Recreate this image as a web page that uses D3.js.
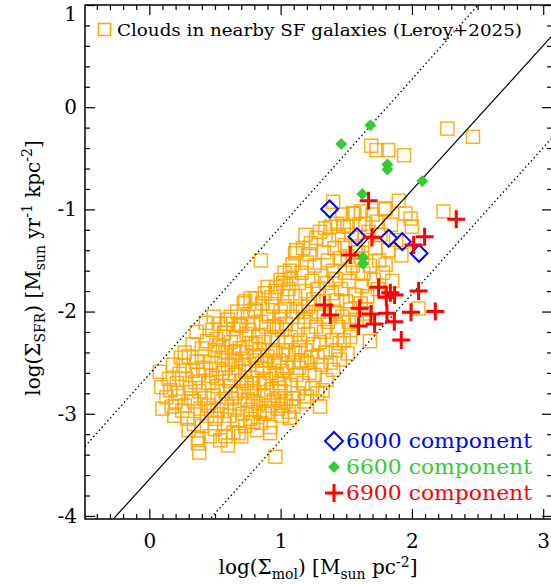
<!DOCTYPE html>
<html><head><meta charset="utf-8">
<script src="https://cdn.jsdelivr.net/npm/d3@7"></script>
<style>body{margin:0;background:#fff}svg{display:block}</style>
</head><body><svg id="c" width="551" height="585"></svg>
<script>
const xTicksMajor=[0,1,2,3];
const xLabels=["0","1","2","3"];
const yTicksMajor=[-4,-3,-2,-1,0,1];
const yLabels=["-4","-3","-2","-1","0","1"];

const cloudPoints=[
[0.08,-2.59],[0.09,-2.74],[0.10,-2.95],[0.13,-2.84],[0.15,-2.66],
[0.17,-2.93],[0.18,-2.52],[0.19,-3.02],[0.21,-2.70],[0.22,-2.80],[0.23,-2.61],[0.24,-2.45],[0.20,-2.88],[0.25,-2.97],[0.16,-2.77],
[0.26,-2.53],[0.27,-2.40],[0.28,-2.66],[0.30,-2.44],[0.30,-3.16],[0.31,-2.75],[0.32,-2.85],[0.33,-2.58],[0.34,-2.88],[0.29,-3.05],[0.33,-2.32],[0.27,-2.92],[0.35,-2.69],[0.34,-3.10],
[0.375,-3.24],[0.38,-3.38],[0.37,-3.29],[0.36,-2.49],[0.37,-2.62],[0.38,-2.78],[0.39,-2.95],[0.40,-2.36],[0.41,-2.55],[0.42,-2.85],[0.43,-2.11],[0.44,-2.29],[0.44,-3.02],[0.45,-2.70],[0.40,-3.12],[0.42,-2.44],[0.36,-2.20],[0.45,-2.92],
[0.46,-3.22],[0.47,-2.50],[0.48,-2.18],[0.48,-2.63],[0.49,-2.82],[0.50,-2.38],[0.50,-3.05],[0.51,-2.27],[0.52,-2.73],[0.52,-2.96],[0.53,-2.56],[0.54,-3.26],[0.54,-2.12],[0.55,-2.45],[0.55,-2.88],[0.47,-2.97],[0.50,-3.15],[0.53,-2.33],[0.49,-2.05],[0.51,-2.65],
[0.56,-2.60],[0.57,-2.21],[0.57,-3.10],[0.58,-2.78],[0.58,-2.40],[0.59,-2.93],[0.60,-3.31],[0.60,-2.08],[0.60,-2.52],[0.61,-2.68],[0.61,-3.02],[0.62,-2.05],[0.62,-2.30],[0.63,-2.85],[0.63,-2.47],[0.64,-3.18],[0.64,-2.17],[0.65,-2.62],[0.65,-2.96],[0.56,-2.35],[0.59,-2.12],[0.62,-2.73],[0.65,-2.40],[0.58,-3.22],
[0.66,-2.26],[0.66,-2.80],[0.67,-2.00],[0.67,-3.07],[0.68,-3.19],[0.68,-2.55],[0.69,-2.36],[0.69,-2.90],[0.70,-2.14],[0.70,-2.68],[0.71,-2.46],[0.71,-3.00],[0.72,-1.92],[0.72,-2.78],[0.73,-1.90],[0.73,-2.59],[0.73,-3.12],[0.74,-2.22],[0.74,-2.40],[0.75,-2.86],[0.75,-2.05],[0.66,-2.49],[0.70,-3.22],[0.74,-2.70],[0.68,-2.12],
[0.76,-2.52],[0.77,-1.87],[0.77,-2.96],[0.78,-2.31],[0.78,-2.65],[0.79,-2.12],[0.79,-3.08],[0.80,-2.43],[0.80,-2.80],[0.81,-1.87],[0.81,-2.00],[0.82,-2.58],[0.82,-3.16],[0.83,-2.24],[0.83,-2.90],[0.84,-2.70],[0.84,-2.38],[0.85,-1.50],[0.85,-3.09],[0.85,-2.10],[0.76,-2.18],[0.78,-2.75],[0.80,-1.98],[0.82,-2.48],[0.84,-2.98],[0.77,-3.05],[0.81,-2.32],[0.79,-2.88],
[0.86,-2.55],[0.86,-1.92],[0.87,-2.82],[0.87,-2.30],[0.88,-1.82],[0.88,-3.00],[0.89,-2.66],[0.89,-2.15],[0.90,-1.76],[0.90,-2.44],[0.91,-2.92],[0.91,-2.05],[0.92,-3.13],[0.92,-3.19],[0.92,-2.60],[0.93,-2.25],[0.93,-2.76],[0.94,-1.95],[0.94,-2.38],[0.95,-2.87],[0.95,-2.50],[0.96,-3.42],[0.88,-2.48],[0.90,-2.98],[0.93,-1.86],[0.95,-2.14],[0.87,-2.70],
[0.96,-1.80],[0.97,-1.76],[0.97,-2.62],[0.98,-2.28],[0.98,-2.95],[0.99,-2.05],[0.99,-2.48],[1.00,-1.69],[1.00,-2.78],[1.01,-2.18],[1.01,-3.02],[1.02,-1.72],[1.02,-2.38],[1.03,-2.66],[1.03,-1.95],[1.04,-2.88],[1.04,-2.12],[1.05,-2.55],[1.05,-1.85],[0.96,-2.40],[0.98,-2.85],[1.00,-2.00],[1.02,-2.92],[1.04,-2.30],[0.97,-2.15],[1.01,-2.58],[1.03,-1.62],[0.99,-2.70],
[1.06,-2.42],[1.06,-2.98],[1.07,-3.04],[1.07,-1.60],[1.08,-2.25],[1.08,-2.72],[1.09,-1.54],[1.09,-2.05],[1.10,-2.93],[1.10,-2.50],[1.11,-1.43],[1.11,-1.85],[1.12,-1.40],[1.12,-2.62],[1.13,-2.18],[1.13,-2.80],[1.14,-1.72],[1.14,-2.35],[1.15,-2.28],[1.15,-1.95],[1.06,-1.78],[1.09,-2.85],[1.12,-2.00],[1.14,-2.55],[1.08,-1.68],[1.11,-2.40],
[1.16,-2.48],[1.16,-1.62],[1.17,-2.70],[1.17,-1.38],[1.18,-2.10],[1.18,-2.88],[1.19,-1.80],[1.19,-2.38],[1.20,-2.83],[1.20,-1.52],[1.21,-2.22],[1.21,-1.95],[1.22,-2.60],[1.22,-1.44],[1.23,-1.33],[1.23,-2.05],[1.24,-2.75],[1.24,-1.70],[1.25,-2.32],[1.25,-1.88],[1.17,-2.00],[1.20,-2.50],[1.23,-2.45],[1.19,-1.25],
[1.26,-1.55],[1.26,-2.62],[1.27,-1.28],[1.27,-2.15],[1.28,-2.44],[1.28,-1.78],[1.29,-2.00],[1.30,-2.93],[1.30,-1.22],[1.30,-2.30],[1.31,-1.65],[1.31,-2.52],[1.32,-2.77],[1.32,-1.90],[1.33,-1.42],[1.33,-2.20],[1.34,-1.185],[1.34,-2.40],[1.35,-2.67],[1.35,-1.72],[1.28,-2.80],[1.33,-2.05],
[1.36,-1.50],[1.36,-2.10],[1.37,-1.30],[1.38,-1.17],[1.38,-2.50],[1.39,-1.82],[1.39,-2.28],[1.40,-0.925],[1.40,-2.57],[1.40,-1.60],[1.41,-1.38],[1.41,-2.00],[1.42,-1.68],[1.42,-2.38],[1.43,-1.14],[1.43,-1.89],[1.44,-1.25],[1.44,-2.15],[1.45,-2.47],[1.45,-1.48],[1.45,-2.31],
[1.46,-1.78],[1.47,-1.05],[1.47,-2.05],[1.48,-1.16],[1.48,-2.28],[1.49,-1.35],[1.49,-1.62],[1.50,-1.90],[1.51,-1.17],[1.51,-2.41],[1.51,-1.46],[1.52,-1.70],[1.53,-2.18],[1.53,-1.98],[1.53,-2.25],[1.54,-1.25],[1.55,-1.55],[1.55,-1.04],[1.52,-2.10],
[1.56,-1.04],[1.57,-1.84],[1.57,-1.36],[1.58,-2.08],[1.59,-1.62],[1.60,-1.15],[1.61,-1.02],[1.61,-1.92],[1.62,-1.48],[1.62,-1.75],[1.63,-1.63],[1.64,-1.30],[1.645,-1.14],[1.65,-1.98],[1.59,-1.42],[1.64,-2.02],
[1.66,-1.85],[1.67,-1.22],[1.68,-2.29],[1.68,-1.55],[1.69,-0.377],[1.70,-1.05],[1.71,-1.69],[1.72,-1.38],[1.73,-0.42],[1.73,-1.12],[1.74,-1.78],[1.75,-1.50],
[1.76,-1.25],[1.78,-1.62],[1.79,-1.00],[1.80,-1.54],[1.80,-0.99],[1.82,-0.42],[1.82,-1.40],[1.84,-1.15],[1.85,-1.70],
[1.88,-1.30],[1.90,-0.915],[1.92,-1.45],[1.94,-0.47],[1.95,-1.04],[1.99,-1.09],[2.00,-1.17],[2.05,-1.97],[2.24,-1.02],
[2.27,-0.21],[2.465,-0.29]
];
const comp6000=[[1.373,-0.996],[1.582,-1.267],[1.823,-1.283],[1.927,-1.316],[2.054,-1.430]];
const comp6600=[[1.462,-0.36],[1.683,-0.177],[1.813,-0.56],[1.813,-0.61],[1.622,-0.849],[2.079,-0.722],[1.628,-1.47],[1.628,-1.53]];
const comp6900=[[1.670,-0.915],[1.696,-1.273],[2.097,-1.267],[2.013,-1.348],[2.338,-1.097],[1.531,-1.446],
[1.746,-1.762],[1.836,-1.815],[1.805,-1.860],[1.868,-1.838],[2.051,-1.798],[1.333,-1.935],[1.379,-2.033],
[1.602,-1.968],[1.688,-2.023],[1.810,-2.017],[1.993,-2.007],[2.178,-2.000],[1.594,-2.141],[1.716,-2.121],
[1.866,-2.099],[1.919,-2.278]];
const lineSlopes=[1.415,1.443,1.432];
const lineIntercepts=[-3.642,-2.613,-4.692];
const legendLabels=["6000 component","6600 component","6900 component"];
const topLegendLabel="Clouds in nearby SF galaxies (Leroy+2025)";

const L=85,R=552,T=5,B=519;
const FONT="'DejaVu Serif', serif";
const x=d3.scaleLinear().domain([-0.49,3.067]).range([L,R]);
const y=d3.scaleLinear().domain([-4.03,1.0]).range([B,T]);
const svg=d3.select("#c");
svg.append("rect").attr("width",551).attr("height",585).attr("fill","#fff");
svg.append("defs").append("clipPath").attr("id","clip").append("rect")
  .attr("x",L).attr("y",T).attr("width",R-L).attr("height",B-T);
const plot=svg.append("g").attr("clip-path","url(#clip)");

plot.selectAll("rect.cl").data(cloudPoints).join("rect").attr("class","cl")
  .attr("x",d=>x(d[0])-6.5).attr("y",d=>y(d[1])-6.5).attr("width",13).attr("height",13)
  .attr("fill","none").attr("stroke","#FFA500").attr("stroke-width",1.5).attr("stroke-opacity",0.9);

const xd=x.domain();
lineSlopes.forEach((s,i)=>{
  plot.append("line")
    .attr("x1",x(xd[0])).attr("y1",y(s*xd[0]+lineIntercepts[i]))
    .attr("x2",x(xd[1])).attr("y2",y(s*xd[1]+lineIntercepts[i]))
    .attr("stroke","#000").attr("stroke-width",i===0?1.2:1.4)
    .attr("stroke-dasharray",i===0?null:"1.4,2.8");
});

const diamond=r=>`M0,${-r}L${r},0L0,${r}L${-r},0Z`;
const plus=r=>`M${-r},0H${r}M0,${-r}V${r}`;
const GREEN="#33CC33";
plot.selectAll("path.g").data(comp6600).join("path").attr("class","g")
  .attr("d",diamond(6)).attr("transform",d=>`translate(${x(d[0])},${y(d[1])})`).attr("fill",GREEN);
plot.selectAll("path.b").data(comp6000).join("path").attr("class","b")
  .attr("d",diamond(8.5)).attr("transform",d=>`translate(${x(d[0])},${y(d[1])})`)
  .attr("fill","none").attr("stroke","#0000FF").attr("stroke-width",2);
plot.selectAll("path.r").data(comp6900).join("path").attr("class","r")
  .attr("d",plus(9)).attr("transform",d=>`translate(${x(d[0])},${y(d[1])})`)
  .attr("fill","none").attr("stroke","#FF0000").attr("stroke-width",3);

// axes
function styleAx(g){g.select(".domain").remove();g.selectAll("line").attr("stroke","#000").attr("stroke-width",1.2);
  g.selectAll("text").attr("font-family",FONT).attr("font-size",20).attr("fill","#000");return g;}
const xMinor=d3.range(-4,31).map(v=>v/10).filter(v=>v%1!==0);
const yMinor=d3.range(-20,6).map(v=>v/5).filter(v=>v%1!==0);
styleAx(svg.append("g").attr("transform",`translate(0,${B})`)
  .call(d3.axisBottom(x).tickValues(xTicksMajor).tickSize(-10).tickPadding(15).tickFormat((d,i)=>xLabels[i])));
styleAx(svg.append("g").attr("transform",`translate(0,${B})`)
  .call(d3.axisBottom(x).tickValues(xMinor).tickSize(-5).tickFormat("")));
styleAx(svg.append("g").attr("transform",`translate(0,${T})`)
  .call(d3.axisTop(x).tickValues(xTicksMajor).tickSize(-10).tickFormat("")));
styleAx(svg.append("g").attr("transform",`translate(0,${T})`)
  .call(d3.axisTop(x).tickValues(xMinor).tickSize(-5).tickFormat("")));
const yAx=styleAx(svg.append("g").attr("transform",`translate(${L},0)`)
  .call(d3.axisLeft(y).tickValues(yTicksMajor).tickSize(-10).tickPadding(8).tickFormat((d,i)=>yLabels[i])));
// keep the top label inside the picture, as in the reference
yAx.selectAll(".tick text").attr("y",d=>Math.max(0,14-y(d)));
styleAx(svg.append("g").attr("transform",`translate(${L},0)`)
  .call(d3.axisLeft(y).tickValues(yMinor).tickSize(-5).tickFormat("")));
styleAx(svg.append("g").attr("transform",`translate(${R},0)`)
  .call(d3.axisRight(y).tickValues(yTicksMajor).tickSize(-10).tickFormat("")));
styleAx(svg.append("g").attr("transform",`translate(${R},0)`)
  .call(d3.axisRight(y).tickValues(yMinor).tickSize(-5).tickFormat("")));
svg.append("rect").attr("x",L).attr("y",T).attr("width",R-L).attr("height",B-T)
  .attr("fill","none").attr("stroke","#000").attr("stroke-width",1.5);

// titles
const xt=svg.append("text").attr("x",318).attr("y",574).attr("text-anchor","middle")
  .attr("font-family",FONT).attr("font-size",20).attr("fill","#000");
xt.append("tspan").text("log(Σ");
xt.append("tspan").attr("font-size",14).attr("dy",5).text("mol");
xt.append("tspan").attr("dy",-5).text(") [M");
xt.append("tspan").attr("font-size",14).attr("dy",5).text("sun");
xt.append("tspan").attr("dy",-5).text(" pc");
xt.append("tspan").attr("font-size",14).attr("dy",-7).text("-2");
xt.append("tspan").attr("dy",7).text("]");

const yt=svg.append("text").attr("transform","translate(40,268) rotate(-90)").attr("text-anchor","middle")
  .attr("font-family",FONT).attr("font-size",20).attr("fill","#000");
yt.append("tspan").text("log(Σ");
yt.append("tspan").attr("font-size",14).attr("dy",5).text("SFR");
yt.append("tspan").attr("dy",-5).text(") [M");
yt.append("tspan").attr("font-size",14).attr("dy",5).text("sun");
yt.append("tspan").attr("dy",-5).text(" yr");
yt.append("tspan").attr("font-size",14).attr("dy",-8).text("-1");
yt.append("tspan").attr("dy",8).text(" kpc");
yt.append("tspan").attr("font-size",14).attr("dy",-8).text("-2");
yt.append("tspan").attr("dy",8).text("]");

// top legend
svg.append("rect").attr("x",98.5).attr("y",23.5).attr("width",12).attr("height",12)
  .attr("fill","none").attr("stroke","#FFA500").attr("stroke-width",1.5);
svg.append("text").attr("x",117).attr("y",36).attr("font-family",FONT).attr("font-size",16)
  .attr("textLength",405).attr("lengthAdjust","spacingAndGlyphs").attr("fill","#000").text(topLegendLabel);

// bottom legend
const legColors=["#0000FF",GREEN,"#FF0000"];
const legY=[441,467,493];
legendLabels.forEach((t,i)=>{
  const g=svg.append("g").attr("transform",`translate(334,${legY[i]})`);
  if(i===0) g.append("path").attr("d",diamond(9)).attr("fill","none").attr("stroke",legColors[i]).attr("stroke-width",2);
  if(i===1) g.append("path").attr("d",diamond(6)).attr("fill",legColors[i]);
  if(i===2) g.append("path").attr("d",plus(9)).attr("fill","none").attr("stroke",legColors[i]).attr("stroke-width",3);
  svg.append("text").attr("x",346).attr("y",legY[i]+7).attr("font-family",FONT).attr("font-size",20)
    .attr("textLength",186).attr("lengthAdjust","spacingAndGlyphs").attr("fill",legColors[i]).text(t);
});
</script></body></html>
